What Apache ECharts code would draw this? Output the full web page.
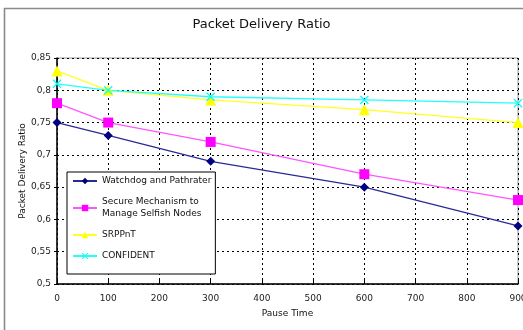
<!DOCTYPE html>
<html>
<head>
<meta charset="utf-8">
<script src="https://cdn.jsdelivr.net/npm/echarts@6/dist/echarts.min.js"></script>
<style>
  html, body { margin: 0; padding: 0; background: #fff; }
  #chart { width: 523px; height: 330px; }
</style>
</head>
<body>
<div id="chart"></div>
<script>
// Pause time (x) and packet delivery ratio per scheme
const pauseTimes = [0, 100, 300, 600, 900];
const watchdog   = [0.75, 0.73, 0.69, 0.65, 0.59];
const secureMech = [0.78, 0.75, 0.72, 0.67, 0.63];
const srppnt     = [0.83, 0.80, 0.785, 0.77, 0.75];
const confident  = [0.81, 0.80, 0.79, 0.785, 0.78];
const seriesNames = ['Watchdog and Pathrater', 'Secure Mechanism to\nManage Selfish Nodes', 'SRPPnT', 'CONFIDENT'];

const FONT = '"DejaVu Sans", Verdana, sans-serif';
const crossPath = 'path://M0,1L1,0L5,4L9,0L10,1L6,5L10,9L9,10L5,6L1,10L0,9L4,5Z';

function pairs(ys) { return pauseTimes.map((x, i) => [x, ys[i]]); }

function makeSeries(name, ys, lineColor, markColor, symbol, size) {
  return {
    name: name,
    type: 'line',
    data: pairs(ys),
    symbol: symbol,
    symbolSize: size,
    lineStyle: { color: lineColor, width: 1.3 },
    itemStyle: { color: markColor },
    emphasis: { disabled: true },
    animation: false
  };
}

const chart = echarts.init(document.getElementById('chart'), null, { renderer: 'canvas' });
chart.setOption({
  backgroundColor: '#fff',
  animation: false,
  title: {
    text: 'Packet Delivery Ratio',
    left: 'center',
    top: 13,
    textStyle: { fontFamily: FONT, fontSize: 13, fontWeight: 'normal', color: '#111' }
  },
  graphic: [{
    type: 'rect',
    shape: { x: 4.5, y: 8.5, width: 540, height: 340 },
    style: { fill: 'none', stroke: '#8a8a8a', lineWidth: 1.6 },
    silent: true, z: -1
  }],
  grid: {
    left: 57, right: 5, top: 58, bottom: 46,
    containLabel: false,
    outerBoundsMode: 'none',
    show: true, backgroundColor: '#fff', borderColor: '#9a9a9a', borderWidth: 1
  },
  legend: {
    orient: 'vertical',
    left: 67, top: 172,
    padding: [3, 4, 12, 5],
    itemGap: 9,
    itemWidth: 24, itemHeight: 8,
    borderColor: '#000', borderWidth: 1,
    backgroundColor: '#fff',
    textStyle: { fontFamily: FONT, fontSize: 9, lineHeight: 12, color: '#111' },
    data: seriesNames
  },
  xAxis: {
    type: 'value',
    min: 0, max: 900, interval: 100,
    name: 'Pause Time',
    nameLocation: 'middle',
    nameGap: 25,
    nameMoveOverlap: false,
    nameTextStyle: { fontFamily: FONT, fontSize: 9, color: '#111' },
    axisLine: { lineStyle: { color: '#000', width: 1.5 } },
    axisTick: { show: true, inside: true, length: 4, lineStyle: { color: '#000' } },
    axisLabel: { fontFamily: FONT, fontSize: 9, color: '#222', margin: 10 },
    splitLine: { show: true, lineStyle: { color: '#000', type: [2, 3], width: 1 } }
  },
  yAxis: {
    type: 'value',
    min: 0.5, max: 0.85, interval: 0.05,
    name: 'Packet Delivery Ratio',
    nameLocation: 'middle',
    nameGap: 30,
    nameMoveOverlap: false,
    nameTextStyle: { fontFamily: FONT, fontSize: 9, color: '#111' },
    axisLine: { show: true, lineStyle: { color: '#000', width: 1.5 } },
    axisTick: { show: true, length: 3, lineStyle: { color: '#000' } },
    axisLabel: {
      fontFamily: FONT, fontSize: 9, color: '#222', margin: 6,
      formatter: v => String(Math.round(v * 100) / 100).replace('.', ',')
    },
    splitLine: { show: true, lineStyle: { color: '#000', type: [2, 3], width: 1 } }
  },
  series: [
    makeSeries(seriesNames[0], watchdog, '#2a2a96', '#000080', 'diamond', 9),
    makeSeries(seriesNames[1], secureMech, '#ff55ff', '#ff00ff', 'rect', 10),
    makeSeries(seriesNames[2], srppnt, '#ffff22', '#ffff00', 'triangle', 11),
    makeSeries(seriesNames[3], confident, '#22ffff', '#00ffff', crossPath, 9)
  ]
});
</script>
</body>
</html>
